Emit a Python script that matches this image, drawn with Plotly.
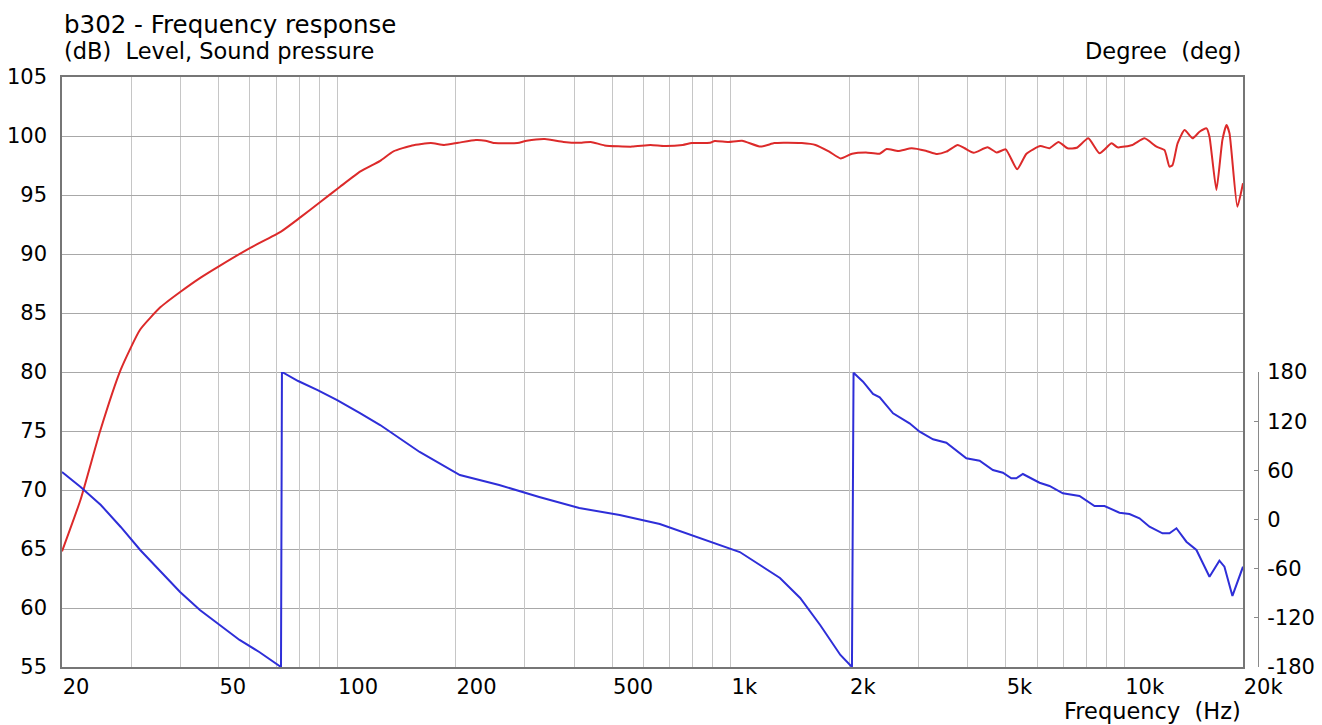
import math
import plotly.graph_objects as go

# ---------------- data ----------------
spl_freq = [20, 22.3, 25, 28.2, 31.6, 35.6, 40, 45, 50.3, 60, 72, 80.6, 90.6, 101.7,
            114.6, 128.6, 139, 155, 173, 187, 203, 225, 238, 251, 287, 303, 337, 376,
            418, 441, 478, 561, 625, 678, 755, 796, 886, 910, 986, 1068, 1190, 1289,
            1361, 1514, 1641, 1778, 1901, 2033, 2204, 2388, 2488, 2660, 2879, 3127,
            3342, 3525, 3770, 3925, 4140, 4489, 4736, 4992, 5337, 5636, 6110, 6443,
            6797, 7169, 7563, 8092, 8640, 9272, 9600, 10480, 11240, 12060, 12640,
            13010, 13245, 13640, 14210, 14890, 15510, 16160, 16440, 17120, 17730,
            18160, 18480, 19350, 20000]
spl_db = [64.8, 69.2, 75.0, 80.2, 83.6, 85.5, 86.8, 88.0, 89.0, 90.5, 91.9, 93.1, 94.4, 95.7,
          97.0, 97.9, 98.7, 99.2, 99.4, 99.24, 99.43, 99.66, 99.6, 99.4, 99.4, 99.6, 99.75, 99.5,
          99.43, 99.5, 99.2, 99.1, 99.24, 99.15, 99.24, 99.4, 99.43, 99.58, 99.5, 99.6, 99.1, 99.4,
          99.43, 99.4, 99.24, 98.67, 98.1, 98.5, 98.6, 98.5, 98.9, 98.73, 98.96, 98.75,
          98.47, 98.67, 99.24, 98.96, 98.58, 99.04, 98.6, 98.87, 97.18, 98.5, 99.15, 98.96,
          99.5, 98.96, 99.0, 99.8, 98.53, 99.38, 99.04, 99.24, 99.8, 99.09, 98.8,
          97.4, 97.54, 99.38, 100.5, 99.8, 100.36, 100.65, 99.94, 95.42, 99.66,
          100.93, 100.23, 94.0, 95.99]

phase_freq = [20, 22.3, 25.1, 28.2, 31.6, 35.6, 39.9, 44.8, 50.3, 56.5, 63.4, 72.0,
              72.4, 73.0, 79.6, 89.2, 100, 114, 128.6, 162, 205, 258, 326, 412, 522,
              660, 834, 1054, 1333, 1500, 1686, 1898, 2031,
              2050, 2167, 2297, 2389, 2583, 2844, 3018, 3263, 3527, 3965, 4285, 4631,
              4910, 5157, 5311, 5520, 6084, 6450, 6972, 7687, 8392, 8897, 9163, 9709,
              10295, 10917, 11575, 12490, 13010, 13550, 14360, 15230, 16440, 17420,
              17940, 18800, 20000]
phase_deg = [58, 39.7, 17.7, -9.1, -37.2, -62.8, -88.5, -110.4, -128.7, -147, -161.7, -180,
             180, 179, 169, 158, 145.8, 130, 115.3, 82.4, 54.3, 42.1, 27.5, 14.0, 5.5,
             -5.5, -22.6, -39.7, -71.4, -95.8, -128.7, -165.3, -180,
             179, 168.2, 153.2, 149.1, 129.6, 117.4, 107.1, 97.9, 93.7, 74.7, 71.8, 60.4,
             57.1, 50.3, 50.3, 55.5, 44.9, 40.9, 32.0, 28.7, 16.5, 16.5, 13.7, 8.3,
             6.7, 1.5, -8.8, -16.8, -16.8, -10.7, -27.1, -37.2, -69.8, -50.3,
             -57.6, -93.3, -57.6]

x_label_vals = [20, 50, 100, 200, 500, 1000, 2000, 5000, 10000, 20000]
x_label_text = ["20", "50", "100", "200", "500", "1k", "2k", "5k", "10k", "20k"]
x_grid_vals = [30, 40, 60, 70, 80, 90, 300, 400, 600, 700, 800, 900,
               3000, 4000, 6000, 7000, 8000, 9000]
x_decade_vals = [100, 1000, 10000]
x_minor_tick_vals = [25, 35, 45, 150, 250, 350, 450, 1500, 2500, 3500, 4500, 15000]
db_ticks = [55, 60, 65, 70, 75, 80, 85, 90, 95, 100, 105]
deg_ticks = [-180, -120, -60, 0, 60, 120, 180]
deg_tick_text = ["-180", "-120", "-60", "0", "60", "120", "180"]

# ---------------- figure ----------------
W, H = 1322, 725
ML, MR, MT, MB = 62, 64, 77, 58
plot_w = W - ML - MR
x_dom_end = 1181 / plot_w

FONT = "DejaVu Sans"
fs = 21

fig = go.Figure()
fig.add_trace(go.Scatter(x=spl_freq, y=spl_db, mode="lines",
                         line=dict(color="#dc2a2a", width=2, shape="spline", smoothing=0.5),
                         xaxis="x", yaxis="y", showlegend=False, hoverinfo="skip"))
fig.add_trace(go.Scatter(x=phase_freq, y=phase_deg, mode="lines",
                         line=dict(color="#2e2ed8", width=2),
                         xaxis="x", yaxis="y2", showlegend=False, hoverinfo="skip"))

xr = [math.log10(20), math.log10(20000)]

fig.update_layout(
    width=W, height=H,
    margin=dict(l=ML, r=MR, t=MT, b=MB, pad=0, autoexpand=False),
    paper_bgcolor="white",
    plot_bgcolor="rgba(0,0,0,0)",
    font=dict(family=FONT, size=fs, color="black"),
    xaxis=dict(
        type="log", range=xr, domain=[0, x_dom_end], anchor="y", automargin=False,
        tickmode="array", tickvals=x_label_vals, ticktext=x_label_text,
        ticks="", showgrid=True, gridcolor="#c6c6c6", gridwidth=1,
        minor=dict(tickmode="array", tickvals=x_grid_vals, showgrid=True,
                   gridcolor="#c6c6c6", gridwidth=1, ticks=""),
        showline=True, linecolor="#767676", linewidth=1.5, mirror=True,
        zeroline=False, ticklabelposition="outside right",
        ticklabelstandoff=0, tickfont=dict(family=FONT, size=fs),
    ),
    xaxis2=dict(
        type="log", range=xr, overlaying="x", anchor="y", automargin=False,
        tickmode="array", tickvals=x_minor_tick_vals,
        ticks="inside", ticklen=4, tickwidth=1, tickcolor="#767676",
        showticklabels=False, showgrid=False, showline=False, mirror="ticks",
        zeroline=False,
        minor=dict(tickmode="array", tickvals=x_decade_vals, showgrid=True,
                   gridcolor="#8a8a8a", gridwidth=1, ticks=""),
    ),
    yaxis=dict(
        range=[55, 105], domain=[0, 1], anchor="x", automargin=False,
        tickmode="array", tickvals=db_ticks, ticks="",
        showgrid=True, gridcolor="#a8a8a8", gridwidth=1,
        showline=True, linecolor="#767676", linewidth=1.5, mirror=True,
        zeroline=False, ticklabelstandoff=9,
        tickfont=dict(family=FONT, size=fs),
    ),
    yaxis2=dict(
        range=[-180, 180], domain=[0, 0.5], anchor="free", position=1.0,
        side="right", tickmode="array", tickvals=deg_ticks, ticktext=deg_tick_text,
        automargin=False,
        ticks="inside", ticklen=4, tickwidth=1, tickcolor="#8a8a8a",
        showline=True, linecolor="#8a8a8a", linewidth=1,
        showgrid=False, zeroline=False, ticklabelstandoff=4,
        tickfont=dict(family=FONT, size=fs),
    ),
)

fig.add_annotation(text="b302 - Frequency response", xref="paper", yref="paper",
                   x=0, y=1, xanchor="left", yanchor="middle", yshift=53,
                   showarrow=False, font=dict(family=FONT, size=24.5))
fig.add_annotation(text="(dB)\u00a0 Level, Sound pressure", xref="paper", yref="paper",
                   x=0, y=1, xanchor="left", yanchor="middle", yshift=26,
                   showarrow=False, font=dict(family=FONT, size=22.5))
fig.add_annotation(text="Degree\u00a0 (deg)", xref="paper", yref="paper",
                   x=x_dom_end, y=1, xanchor="right", yanchor="middle", yshift=26,
                   showarrow=False, font=dict(family=FONT, size=22.5))
fig.add_annotation(text="Frequency\u00a0 (Hz)", xref="paper", yref="paper",
                   x=x_dom_end, y=0, xanchor="right", yanchor="middle", yshift=-44,
                   showarrow=False, font=dict(family=FONT, size=22.5))

# remove the default page margin so the 1322x725 figure fills the window exactly
fig.write_html("out.html",
               config={"displayModeBar": False},
               post_script="document.body.style.margin='0';document.body.style.overflow='hidden';")
